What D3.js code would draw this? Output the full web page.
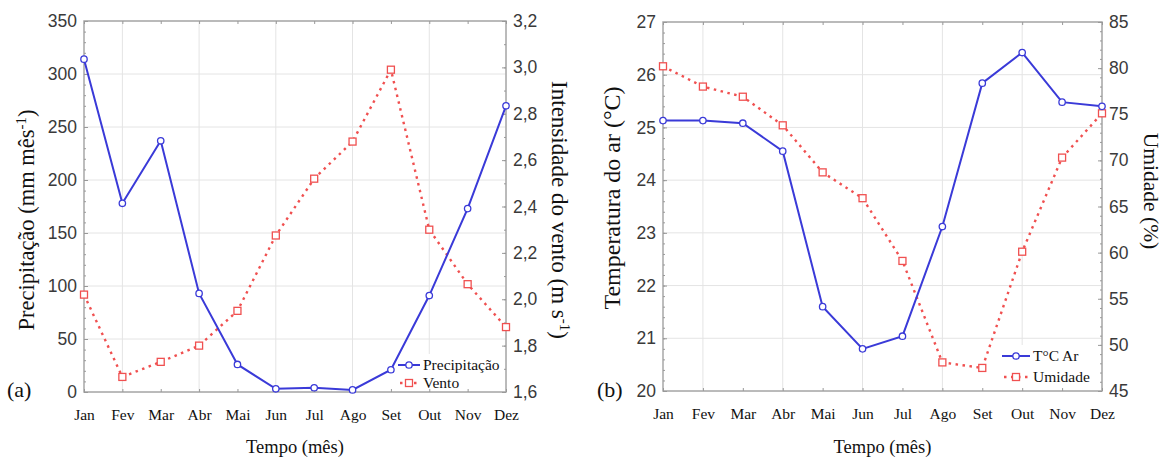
<!DOCTYPE html>
<html>
<head>
<meta charset="utf-8">
<script src="https://cdn.jsdelivr.net/npm/d3@7"></script>
<style>
  body { margin: 0; background: #fff; }
</style>
</head>
<body>
<svg width="1172" height="462"></svg>
<script>
// dados
var meses = ["Jan", "Fev", "Mar", "Abr", "Mai", "Jun", "Jul", "Ago", "Set", "Out", "Nov", "Dez"];
var precipitacao = [314, 178, 237, 93, 26, 3, 4, 2, 21, 91, 173, 270];
var vento = [2.02, 1.665, 1.73, 1.80, 1.95, 2.275, 2.52, 2.68, 2.99, 2.30, 2.065, 1.88];
var temperatura = [25.13, 25.13, 25.08, 24.55, 21.6, 20.8, 21.04, 23.12, 25.84, 26.42, 25.48, 25.4];
var umidade = [80.2, 78.0, 76.9, 73.8, 68.7, 65.9, 59.1, 48.1, 47.5, 60.1, 70.3, 75.1];

var ticksPrec = d3.range(0, 351, 50);
var ticksVento = d3.range(16, 33, 2).map(function(d){ return d / 10; });
var ticksTemp = d3.range(20, 28, 1);
var ticksUmid = d3.range(45, 86, 5);

var BLUE = "#3a3ad8";
var RED = "#f05050";
var GRID = "#e4e4e4";
var FRAME = "#a8a8a8";
var SERIF = "'Liberation Serif', 'Times New Roman', serif";
var SANS = "'Liberation Sans', Arial, sans-serif";

var svg = d3.select("svg");

function virgula(f) {
    return function(d) { return d3.format(f)(d).replace(".", ","); };
}

function drawPanel(cfg) {
    var x = d3.scalePoint().domain(meses).range([cfg.x0, cfg.x1]);
    var yL = d3.scaleLinear().domain(cfg.domL).range([cfg.y1, cfg.y0]);
    var yR = d3.scaleLinear().domain(cfg.domR).range([cfg.y1, cfg.y0]);
    var g = svg.append("g");

    // grade
    g.append("g").selectAll("line")
        .data(cfg.ticksL)
        .enter().append("line")
        .attr("x1", cfg.x0).attr("x2", cfg.x1)
        .attr("y1", function(d){ return yL(d); })
        .attr("y2", function(d){ return yL(d); })
        .attr("stroke", GRID).attr("stroke-width", 1);
    g.append("g").selectAll("line")
        .data(meses.filter(function(d, i){ return i % 2 == 1; }))
        .enter().append("line")
        .attr("x1", function(d){ return x(d); })
        .attr("x2", function(d){ return x(d); })
        .attr("y1", cfg.y0).attr("y2", cfg.y1)
        .attr("stroke", GRID).attr("stroke-width", 1);

    // fundo da legenda (por baixo das séries)
    g.append("rect")
        .attr("x", cfg.legX - 4).attr("y", cfg.legY - 11)
        .attr("width", cfg.x1 - cfg.legX + 3).attr("height", cfg.y1 - cfg.legY + 10)
        .attr("fill", "white");

    // moldura
    g.append("rect")
        .attr("x", cfg.x0).attr("y", cfg.y0)
        .attr("width", cfg.x1 - cfg.x0).attr("height", cfg.y1 - cfg.y0)
        .attr("fill", "none").attr("stroke", FRAME).attr("stroke-width", 1.5);

    // eixos
    var axL = g.append("g")
        .attr("transform", "translate(" + cfg.x0 + ",0)")
        .call(d3.axisLeft(yL).tickValues(cfg.ticksL).tickSize(-4).tickPadding(7).tickFormat(cfg.fmtL));
    var axLm = g.append("g")
        .attr("transform", "translate(" + cfg.x0 + ",0)")
        .call(d3.axisLeft(yL).ticks(cfg.minorL).tickSize(-2).tickFormat(""));
    var axR = g.append("g")
        .attr("transform", "translate(" + cfg.x1 + ",0)")
        .call(d3.axisRight(yR).tickValues(cfg.ticksR).tickSize(-4).tickPadding(7).tickFormat(cfg.fmtR));
    var axRm = g.append("g")
        .attr("transform", "translate(" + cfg.x1 + ",0)")
        .call(d3.axisRight(yR).ticks(cfg.minorR).tickSize(-2).tickFormat(""));
    var axB = g.append("g")
        .attr("transform", "translate(0," + cfg.y1 + ")")
        .call(d3.axisBottom(x).tickSize(-3).tickPadding(17));
    var axT = g.append("g")
        .attr("transform", "translate(0," + cfg.y0 + ")")
        .call(d3.axisTop(x).tickSize(-3).tickFormat(""));

    [axL, axLm, axR, axRm, axB, axT].forEach(function(a){
        a.select(".domain").remove();
        a.selectAll(".tick line").attr("stroke", "#999");
    });
    [axL, axR].forEach(function(a){
        a.selectAll(".tick text")
            .attr("font-family", SANS).attr("font-size", 17.5).attr("fill", "#3a3a3a");
    });
    axB.selectAll(".tick text")
        .attr("font-family", SERIF).attr("font-size", 15.5).attr("fill", "#111");

    // séries
    var linha = function(esc, vals) {
        return d3.line()
            .x(function(d, i){ return x(meses[i]); })
            .y(function(d){ return esc(d); })(vals);
    };
    g.append("path")
        .attr("d", linha(yR, cfg.serieR))
        .attr("fill", "none").attr("stroke", RED)
        .attr("stroke-width", 2.4).attr("stroke-dasharray", "2.5,4.5");
    g.append("path")
        .attr("d", linha(yL, cfg.serieL))
        .attr("fill", "none").attr("stroke", BLUE).attr("stroke-width", 2);

    g.append("g").selectAll("rect")
        .data(cfg.serieR)
        .enter().append("rect")
        .attr("x", function(d, i){ return x(meses[i]) - 3.5; })
        .attr("y", function(d){ return yR(d) - 3.5; })
        .attr("width", 7).attr("height", 7)
        .attr("fill", "white").attr("stroke", RED).attr("stroke-width", 1.3);
    g.append("g").selectAll("circle")
        .data(cfg.serieL)
        .enter().append("circle")
        .attr("cx", function(d, i){ return x(meses[i]); })
        .attr("cy", function(d){ return yL(d); })
        .attr("r", 3.2)
        .attr("fill", "white").attr("stroke", BLUE).attr("stroke-width", 1.3);

    // títulos
    var tL = g.append("text")
        .attr("transform", "translate(" + cfg.tLx + "," + cfg.tLy + ") rotate(-90)")
        .attr("text-anchor", "middle")
        .attr("font-family", SERIF).attr("font-size", cfg.tLsize).attr("fill", "#111");
    cfg.tituloL(tL);
    var tR = g.append("text")
        .attr("transform", "translate(" + cfg.tRx + "," + cfg.tRy + ") rotate(90)")
        .attr("text-anchor", "middle")
        .attr("font-family", SERIF).attr("font-size", cfg.tRsize).attr("fill", "#111");
    cfg.tituloR(tR);

    g.append("text")
        .attr("x", (cfg.x0 + cfg.x1) / 2).attr("y", 453)
        .attr("text-anchor", "middle")
        .attr("font-family", SERIF).attr("font-size", 18.5).attr("fill", "#111")
        .text("Tempo (mês)");

    g.append("text")
        .attr("x", cfg.letraX).attr("y", 397)
        .attr("font-family", SERIF).attr("font-size", 22).attr("fill", "#111")
        .text(cfg.letra);

    // legenda
    var lg = g.append("g").attr("transform", "translate(" + cfg.legX + "," + cfg.legY + ")");
    lg.append("line").attr("x1", 0).attr("x2", cfg.legW).attr("y1", 0).attr("y2", 0)
        .attr("stroke", BLUE).attr("stroke-width", 2);
    lg.append("circle").attr("cx", cfg.legW / 2).attr("cy", 0).attr("r", 3.2)
        .attr("fill", "white").attr("stroke", BLUE).attr("stroke-width", 1.3);
    lg.append("line").attr("x1", 2).attr("x2", cfg.legW).attr("y1", cfg.legDy).attr("y2", cfg.legDy)
        .attr("stroke", RED).attr("stroke-width", 2.4).attr("stroke-dasharray", "2.5,4.5");
    lg.append("rect").attr("x", cfg.legW / 2 - 3.5).attr("y", cfg.legDy - 3.5).attr("width", 7).attr("height", 7)
        .attr("fill", "white").attr("stroke", RED).attr("stroke-width", 1.3);
    lg.selectAll("text.leg")
        .data(cfg.legenda)
        .enter().append("text")
        .attr("x", cfg.legW + 3)
        .attr("y", function(d, i){ return i * cfg.legDy + 5; })
        .attr("font-family", SERIF).attr("font-size", 15.5).attr("fill", "#111")
        .text(function(d){ return d; });
}

drawPanel({
    x0: 84, x1: 506, y0: 21, y1: 392,
    domL: [0, 350], domR: [1.6, 3.2],
    ticksL: ticksPrec, ticksR: ticksVento,
    minorL: 35, minorR: 16,
    fmtL: d3.format("d"), fmtR: virgula(".1f"),
    serieL: precipitacao, serieR: vento,
    tLx: 34, tLy: 220, tRx: 552, tRy: 210,
    tLsize: 22.5, tRsize: 23,
    tituloL: function(t){
        t.append("tspan").text("Precipitação (mm mês");
        t.append("tspan").attr("dy", -8).attr("font-size", 15).text("-1");
        t.append("tspan").attr("dy", 8).text(")");
    },
    tituloR: function(t){
        t.append("tspan").text("Intensidade do vento (m s");
        t.append("tspan").attr("dy", -8).attr("font-size", 15).text("-1");
        t.append("tspan").attr("dy", 8).text(")");
    },
    letra: "(a)", letraX: 7,
    legX: 398, legY: 365, legW: 22, legDy: 18,
    legenda: ["Precipitação", "Vento"]
});

drawPanel({
    x0: 663, x1: 1102, y0: 22, y1: 391,
    domL: [20, 27], domR: [45, 85],
    ticksL: ticksTemp, ticksR: ticksUmid,
    minorL: 35, minorR: 40,
    fmtL: d3.format("d"), fmtR: d3.format("d"),
    serieL: temperatura, serieR: umidade,
    tLx: 620, tLy: 198, tRx: 1144, tRy: 191,
    tLsize: 24, tRsize: 21.5,
    tituloL: function(t){ t.text("Temperatura do ar (°C)"); },
    tituloR: function(t){ t.text("Umidade (%)"); },
    letra: "(b)", letraX: 597,
    legX: 1002, legY: 356, legW: 28, legDy: 21,
    legenda: ["T°C Ar", "Umidade"]
});
</script>
</body>
</html>
